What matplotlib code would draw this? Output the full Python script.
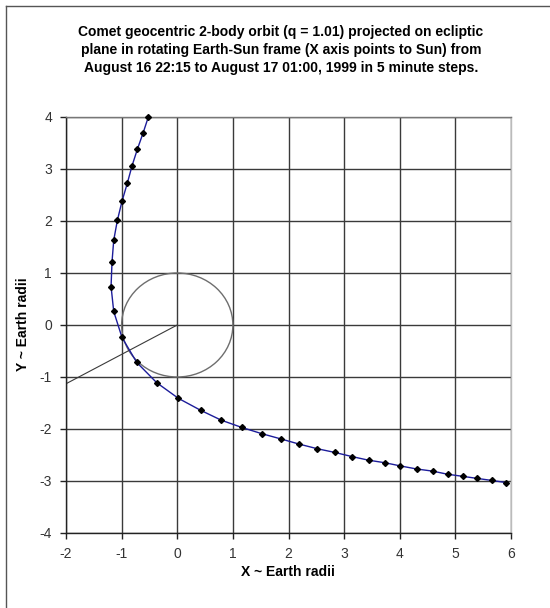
import numpy as np
import matplotlib
matplotlib.use("Agg")
import matplotlib.pyplot as plt
from matplotlib.patches import Circle
from matplotlib.lines import Line2D

plt.rcParams['font.family'] = ['Liberation Sans', 'DejaVu Sans']
plt.rcParams['axes.unicode_minus'] = False

# comet positions (Earth radii), 5 minute steps
comet_x = [-0.52, -0.615, -0.717, -0.813, -0.897, -0.993, -1.077, -1.142, -1.173, -1.19,
           -1.142, -0.993, -0.728, -0.369, 0.02, 0.42, 0.79, 1.16, 1.52, 1.86,
           2.19, 2.52, 2.83, 3.14, 3.44, 3.74, 4.01, 4.31, 4.59, 4.86,
           5.13, 5.39, 5.66, 5.91]
comet_y = [4.0, 3.69, 3.38, 3.06, 2.73, 2.38, 2.01, 1.63, 1.21, 0.74,
           0.26, -0.24, -0.72, -1.11, -1.41, -1.64, -1.83, -1.97, -2.09, -2.19,
           -2.29, -2.38, -2.45, -2.53, -2.60, -2.65, -2.71, -2.77, -2.81, -2.87,
           -2.91, -2.95, -2.99, -3.03]

earth_radius = 1.0
ray_x = [0, -2.0]
ray_y = [0, -1.13]

x_ticks = np.arange(-2, 7, 1)
y_ticks = np.arange(-4, 5, 1)

title = ("Comet geocentric 2-body orbit (q = 1.01) projected on ecliptic\n"
         "plane in rotating Earth-Sun frame (X axis points to Sun) from\n"
         "August 16 22:15 to August 17 01:00, 1999 in 5 minute steps.")

fig = plt.figure(figsize=(5.5, 6.08), dpi=100)
W, H = 550, 608
# plot area in pixels: left 66, right 511, top 117, bottom 533
ax = fig.add_axes([66 / W, 1 - 533 / H, (511 - 66) / W, (533 - 117) / H])

ax.set_xlim(-2, 6)
ax.set_ylim(-4, 4)
ax.set_xticks(x_ticks)
ax.set_yticks(y_ticks)
ax.grid(True, color='#3a3a3a', linewidth=1.0)
ax.set_axisbelow(True)

ax.add_patch(Circle((0, 0), earth_radius, fill=False, edgecolor='#6e6e6e', linewidth=1.0, zorder=2))
ax.plot(ray_x, ray_y, color='#3a3a3a', linewidth=0.8, zorder=2)
ax.plot(comet_x, comet_y, color='#1c1c9a', linewidth=1.0, zorder=3)
ax.plot(comet_x, comet_y, linestyle='none', marker='D', markersize=3.0,
        color='black', zorder=4, clip_on=False)

for side in ['left', 'bottom']:
    ax.spines[side].set(color='#222222', lw=1.0)
ax.spines['top'].set(color='#777777', lw=1.0)
ax.spines['right'].set(color='#bbbbbb', lw=1.0)

ax.tick_params(axis='both', which='major', labelsize=10, length=4, width=1,
               direction='out', colors='#222222', labelcolor='#333333')
ax.tick_params(axis='x', pad=6)
ax.tick_params(axis='y', pad=6)

fig.text(281 / W, 1 - 50 / H, title, ha='center', va='center', fontsize=10,
         fontweight='bold', linespacing=1.4)
fig.text(288 / W, 1 - 572 / H, "X ~ Earth radii", ha='center', va='center',
         fontsize=10, fontweight='bold')
fig.text(23 / W, 1 - 324 / H, "Y ~ Earth radii", ha='center', va='center',
         fontsize=10, fontweight='bold', rotation=90)

# chart frame (left and top edges)
fig.add_artist(Line2D([6 / W, 6 / W], [0, 1 - 6 / H], color='#555555', lw=1.0))
fig.add_artist(Line2D([6 / W, 1], [1 - 6 / H, 1 - 6 / H], color='#555555', lw=1.0))

plt.savefig("out.png", dpi=100)
